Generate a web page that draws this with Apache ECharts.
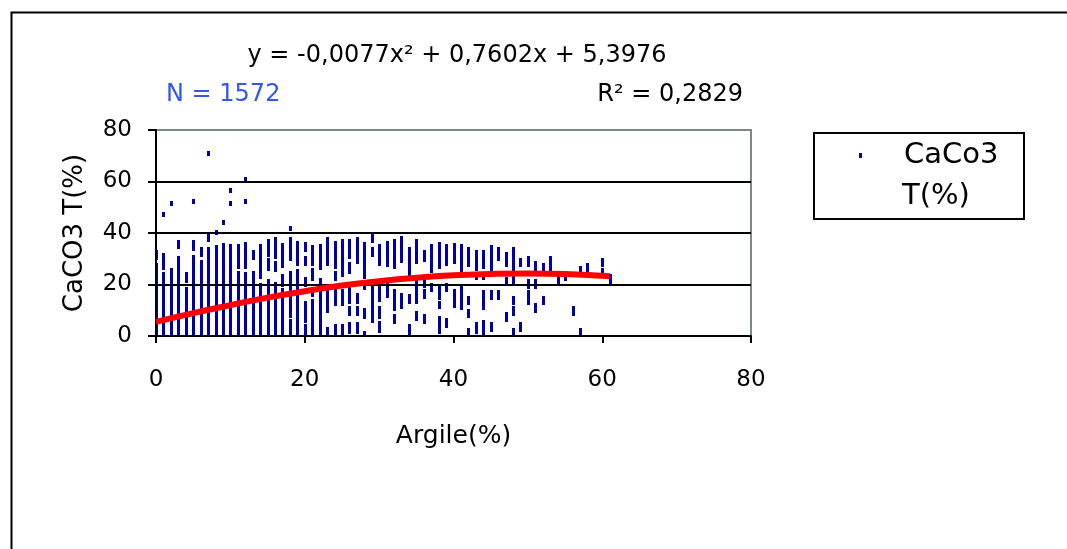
<!DOCTYPE html>
<html>
<head>
<meta charset="utf-8">
<title>CaCO3 vs Argile</title>
<script src="https://cdn.jsdelivr.net/npm/echarts@6/dist/echarts.min.js"></script>
<style>
html, body { margin: 0; padding: 0; background: #fff; }
#chart { width: 1067px; height: 549px; }
</style>
</head>
<body>
<div id="chart"></div>
<script>
var xTicks = [0, 20, 40, 60, 80];
var yTicks = [0, 20, 40, 60, 80];

// stacked points read column by column: [argile, caco3 from, caco3 to]
var caco3Runs = [
    [0, 0, 24.3], [0, 25.4, 27.2], [0, 30.5, 32.5],
    [1, 0, 19.5], [1, 21.7, 24], [1, 26.7, 28.2], [1, 30, 31.4], [1, 47, 47],
    [2, 0, 25.3], [2, 51.3, 51.3],
    [3, 0, 30], [3, 34.8, 36.4],
    [4, 0, 18], [4, 21.5, 24],
    [5, 0, 26.5], [5, 28.5, 30.5], [5, 34, 36.5], [5, 52.3, 52.3],
    [6, 0, 19], [6, 20, 21], [6, 22.6, 25], [6, 27, 28.4], [6, 31.8, 33.4],
    [7, 0, 23], [7, 24.5, 28], [7, 29.5, 30.8], [7, 32, 33.4], [7, 37.3, 39.5], [7, 71, 71],
    [8, 0, 31.5], [8, 33, 34.5], [8, 40.1, 40.1],
    [9, 0, 35], [9, 44, 44],
    [10, 0, 24.3], [10, 26.3, 34.7], [10, 51.3, 51.3], [10, 56.4, 56.4],
    [11, 0, 24.3], [11, 27, 28.5], [11, 29.8, 34.7],
    [12, 0, 24], [12, 27, 32.8], [12, 33.6, 35.7], [12, 52.3, 52.3], [12, 60.8, 60.8],
    [13, 0, 21], [13, 22.4, 24.3], [13, 30.5, 32.5],
    [14, 0, 19.8], [14, 23, 24.8], [14, 26.3, 29.3], [14, 30.5, 34.7],
    [15, 1.5, 6], [15, 8, 13], [15, 16, 21], [15, 26.3, 29.3], [15, 31.5, 32.8], [15, 33.4, 36.6],
    [16, 0, 3], [16, 5, 20], [16, 26, 28], [16, 31, 33.4], [16, 34.7, 37.5],
    [17, 0, 17.5], [17, 20, 23], [17, 27.5, 30.5], [17, 32, 35],
    [18, 0, 5.5], [18, 8, 21], [18, 22.5, 24.3], [18, 30.2, 37.5], [18, 41.9, 41.9],
    [19, 0, 21], [19, 23, 25], [19, 28, 32], [19, 33.5, 36],
    [20, 0, 3.5], [20, 6, 12.7], [20, 20, 22], [20, 28, 30], [20, 33.6, 35.7],
    [21, 1, 7.5], [21, 9.4, 13.3], [21, 16, 18], [21, 22.4, 25.4], [21, 28, 34.4],
    [22, 0, 4], [22, 6, 13], [22, 14.5, 19], [22, 20, 21.5], [22, 26.7, 28.5], [22, 30.5, 34.7],
    [23, 0.4, 2.4], [23, 10, 17.2], [23, 28.2, 30.2], [23, 30.8, 37.5],
    [24, 0.4, 3.6], [24, 12.7, 17.2], [24, 22.4, 24.3], [24, 27, 36],
    [25, 0.4, 3.6], [25, 12.7, 17.2], [25, 23.7, 36.6],
    [26, 1.7, 4.3], [26, 8.8, 10.7], [26, 13.3, 17.9], [26, 25, 27.6], [26, 30.8, 36.6],
    [27, 1.7, 4.3], [27, 8.8, 10.7], [27, 13.3, 15.9], [27, 28.9, 37.5],
    [28, 0, 1], [28, 7.5, 10], [28, 19, 20], [28, 23, 32.1], [28, 33.4, 35.7],
    [29, 6.2, 8.8], [29, 10.7, 19.2], [29, 31.5, 33.6], [29, 37, 38.8],
    [30, 2.3, 4.9], [30, 7.5, 10.7], [30, 14, 19.8], [30, 28.2, 34.7],
    [31, 15.9, 19.8], [31, 27.6, 30], [31, 30.2, 36],
    [32, 5.5, 7.5], [32, 10.7, 17.2], [32, 27, 36.6],
    [33, 11.4, 15.9], [33, 29.5, 37.9],
    [34, 0.4, 3.6], [34, 13.3, 15.3], [34, 24.3, 30.2], [34, 31.5, 33.6],
    [35, 6.9, 8.8], [35, 13.3, 21], [35, 28.9, 36.6],
    [36, 5.5, 7.5], [36, 15.3, 17.2], [36, 19.8, 22.4], [36, 29.8, 32.4],
    [37, 17.9, 19.8], [37, 25.6, 34.7],
    [38, 1.7, 3.6], [38, 4.9, 6.9], [38, 11.4, 12.7], [38, 15, 17.2], [38, 17.9, 19.2], [38, 27, 35.7],
    [39, 3.9, 6.2], [39, 17.9, 19.8], [39, 28.2, 34.7],
    [40, 12, 17.2], [40, 28.9, 35.3],
    [41, 11.1, 19.2], [41, 25.6, 34.7],
    [42, 0.4, 2.3], [42, 7.8, 9.4], [42, 12.9, 14.6], [42, 27.6, 33.4],
    [43, 1.7, 4.3], [43, 22.6, 23.9], [43, 26.3, 32.5],
    [44, 0.4, 5.2], [44, 11.1, 16.8], [44, 22.6, 23.9], [44, 27, 32.5],
    [45, 2.6, 4.3], [45, 15, 16.8], [45, 25.6, 27.6], [45, 28.9, 34.4],
    [46, 15, 16.8], [46, 30.2, 33.4],
    [47, 6.6, 8.5], [47, 20.2, 22], [47, 27.6, 31.5],
    [48, 0.4, 2.3], [48, 8.8, 10.7], [48, 12.9, 14.6], [48, 21, 23], [48, 25.4, 30.2], [48, 31.8, 33.4],
    [49, 2.6, 4.3], [49, 27.6, 29.3],
    [50, 12.9, 16.8], [50, 19.4, 21], [50, 27.6, 30.2],
    [51, 9.8, 11.7], [51, 19.4, 21], [51, 25.6, 28.2],
    [52, 12.9, 14.6], [52, 25.4, 27.2],
    [53, 25.4, 30.2],
    [54, 20.2, 23.3],
    [55, 22.4, 23.3],
    [56, 8.8, 10.7],
    [57, 0.4, 2.3], [57, 25, 26.3],
    [58, 25.4, 27.2],
    [60, 24, 25.6], [60, 27.6, 29.3],
    [61, 21, 23]
];

// red trend line
var trendX = [0, 5, 10, 15, 20, 25, 30, 35, 40, 45, 50, 55, 60, 61];
var trendY = [5.5, 8.9, 12.0, 14.9, 17.4, 19.6, 21.3, 22.6, 23.6, 24.1, 24.3, 24.1, 23.4, 23.2];

var seriesName = 'CaCo3 T(%)';
var font = 'DejaVu Sans';

var trendData = trendX.map(function (x, i) { return [x, trendY[i]]; });

var myChart = echarts.init(document.getElementById('chart'));

option = {
    animation: false,
    backgroundColor: '#fff',
    grid: {
        left: 156,
        top: 130,
        right: 316,
        bottom: 213,
        show: true,
        borderColor: '#7a8888',
        borderWidth: 2
    },
    xAxis: {
        type: 'value',
        min: xTicks[0],
        max: xTicks[xTicks.length - 1],
        interval: 20,
        name: 'Argile(%)',
        nameLocation: 'middle',
        nameGap: 88,
        nameTextStyle: { fontFamily: font, fontSize: 25, color: '#000' },
        axisLine: { show: true, onZero: false, lineStyle: { color: '#000', width: 2 } },
        axisTick: { show: true, length: 7, lineStyle: { color: '#000', width: 2 } },
        axisLabel: { margin: 33, fontFamily: font, fontSize: 23, color: '#000' },
        splitLine: { show: false }
    },
    yAxis: {
        type: 'value',
        min: yTicks[0],
        max: yTicks[yTicks.length - 1],
        interval: 20,
        name: 'CaCO3 T(%)',
        nameLocation: 'middle',
        nameGap: 68,
        nameTextStyle: { fontFamily: font, fontSize: 26, color: '#000' },
        axisLine: { show: true, onZero: false, lineStyle: { color: '#000', width: 2 } },
        axisTick: { show: true, length: 8, lineStyle: { color: '#000', width: 2 } },
        axisLabel: { margin: 24, fontFamily: font, fontSize: 23, color: '#000' },
        splitLine: { show: true, showMinLine: false, showMaxLine: false, lineStyle: { color: '#000', width: 2 } }
    },
    graphic: [
        {
            type: 'rect',
            shape: { x: 11.5, y: 12.5, width: 1200, height: 700 },
            style: { fill: 'none', stroke: '#000', lineWidth: 2 },
            silent: true
        },
        {
            type: 'text',
            x: 457, y: 56,
            style: {
                text: 'y = -0,0077x² + 0,7602x + 5,3976',
                font: '24px "DejaVu Sans"', fill: '#000',
                align: 'center', verticalAlign: 'middle'
            }
        },
        {
            type: 'text',
            x: 166, y: 95,
            style: {
                text: 'N = 1572',
                font: '24px "DejaVu Sans"', fill: '#3357f0',
                align: 'left', verticalAlign: 'middle'
            }
        },
        {
            type: 'text',
            x: 743, y: 95,
            style: {
                text: 'R² = 0,2829',
                font: '24px "DejaVu Sans"', fill: '#000',
                align: 'right', verticalAlign: 'middle'
            }
        },
        {
            type: 'rect',
            shape: { x: 814, y: 133, width: 210, height: 86 },
            style: { fill: '#fff', stroke: '#000', lineWidth: 2 }
        },
        {
            type: 'rect',
            shape: { x: 859, y: 153, width: 3, height: 5 },
            style: { fill: '#0000a8' }
        },
        {
            type: 'text',
            x: 904, y: 155,
            style: {
                text: 'CaCo3',
                font: '29px "DejaVu Sans"', fill: '#000',
                align: 'left', verticalAlign: 'middle'
            }
        },
        {
            type: 'text',
            x: 902, y: 196,
            style: {
                text: 'T(%)',
                font: '29px "DejaVu Sans"', fill: '#000',
                align: 'left', verticalAlign: 'middle'
            }
        }
    ],
    series: [
        {
            name: seriesName,
            type: 'custom',
            z: -1,
            clip: true,
            encode: { x: 0, y: [1, 2] },
            data: caco3Runs,
            renderItem: function (params, api) {
                var x = api.value(0);
                var top = api.coord([x, api.value(2)]);
                var bot = api.coord([x, api.value(1)]);
                var y0 = Math.round(top[1] - 2.5);
                var y1 = Math.round(bot[1] + 2.5);
                return {
                    type: 'rect',
                    shape: { x: Math.round(top[0]) - 1, y: y0, width: 3, height: y1 - y0 },
                    style: { fill: '#0000a8' }
                };
            }
        },
        {
            name: 'trend',
            type: 'line',
            z: 5,
            data: trendData,
            showSymbol: false,
            smooth: true,
            lineStyle: { color: '#ff0000', width: 6 }
        }
    ]
};

myChart.setOption(option);
</script>
</body>
</html>
